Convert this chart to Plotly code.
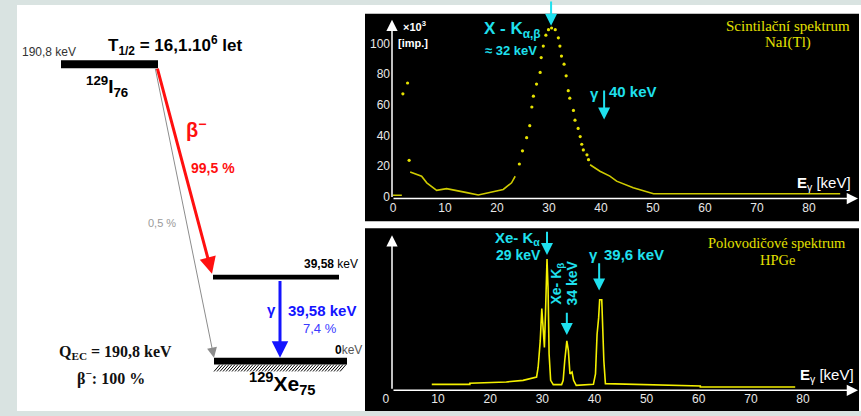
import plotly.graph_objects as go

W, H = 861, 416
SANS = "Liberation Sans, Arial, sans-serif"
SERIF = "Liberation Serif, Times New Roman, serif"

# ---------------- decay scheme of 129I ----------------
level_energy_keV = [190.8, 39.58, 0.0]          # parent, excited, ground
beta_branch_pct = [99.5, 0.5]                   # to 39.58 keV level, to ground
gamma_energy_keV = 39.58
gamma_intensity_pct = 7.4
half_life_mantissa = "16,1"
half_life_exp = 6
q_value_keV = 190.8
beta_total_pct = 100
parent_nuclide = ("129", "I", "76")
daughter_nuclide = ("129", "Xe", "75")

# ---------------- NaI(Tl) scintillation spectrum ----------------
nai_line_keV = [0.0, 1.7, None,
                3.3, 5.5, 6.5, 8.4, 10.3, 12.2, 14.2, 16.4, 19.3, 21.2, 22.8, 23.5, None,
                37.9, 39.8, 41.7, 43.0, 46.2, 49.4, 50.1, 86.0]
nai_line_counts = [0.9, 0.9, None,
                   16.1, 13.3, 9.0, 4.1, 5.2, 4.1, 2.6, 1.1, 3.0, 4.7, 9.0, 13.3, None,
                   20.8, 16.6, 13.4, 10.1, 5.8, 2.6, 1.9, 1.9]
nai_dot_keV = [1.9, 2.8, 3.1,
               24.3, 24.9, 25.7, 26.3, 26.7, 27.0, 27.6, 28.3, 28.5, 28.9, 29.4, 29.9,
               30.5, 31.2, 31.8, 32.1, 32.4, 32.9, 33.3, 33.7, 34.0, 34.7, 35.0, 35.6,
               36.0, 36.3, 36.6, 37.3, 37.6]
nai_dot_counts = [67.1, 74.2, 23.7,
                  21.3, 29.9, 38.5, 46.3, 58.5, 65.6, 73.5, 81.1, 90.8, 98.3, 105.4, 109.0,
                  110.1, 109.0, 103.7, 98.3, 91.8, 86.5, 78.9, 69.2, 64.3, 56.3, 49.9, 44.5,
                  39.2, 34.2, 30.5, 27.3, 24.1]
nai_xticks = [0, 10, 20, 30, 40, 50, 60, 70, 80]
nai_yticks = [0, 20, 40, 60, 80, 100]
nai_peak_marks_keV = [30.4, 40.6]       # X-K(alpha,beta) and gamma arrows

# ---------------- HPGe semiconductor spectrum ----------------
hpge_keV = [8.8, 16.1, 16.1, 23.1, 26.3, 28.9, 29.2, 29.6, 29.9, 30.1, 30.4, 30.6,
            30.9, 31.1, 31.3, 31.6, 32.1, 33.7, 34.0, 34.3, 34.7, 35.0, 35.3, 35.7,
            36.0, 36.5, 39.8, 40.2, 40.5, 40.8, 41.0, 41.4, 41.6, 41.8, 42.1, 60.3,
            60.3, 78.5]
hpge_counts = [4.0, 4.0, 4.7, 5.6, 6.7, 8.9, 15.6, 33.4, 55.3, 46.8, 29.0, 51.3,
               88.8, 69.1, 24.5, 6.7, 3.8, 3.8, 6.7, 20.0, 33.4, 26.8, 11.1, 12.3,
               6.7, 3.3, 4.0, 11.1, 37.9, 49.0, 61.3, 61.3, 40.1, 20.0, 4.5, 2.9,
               2.2, 2.2]
hpge_xticks = [0, 10, 20, 30, 40, 50, 60, 70, 80]
hpge_peak_marks_keV = [30.9, 34.7, 40.9]  # Kalpha, Kbeta, gamma arrows


def cz(v):
    """Czech decimal comma."""
    return format(v, "g").replace(".", ",")


# ---------------- figure geometry (canvas pixels) ----------------
BG = "#d9e3e1"
CYAN = "#1fe0ee"
YELLOW_TXT = "#e4e000"
RED = "#ff1010"
BLUE = "#1414ff"

bars = {"parent": (61, 158, 61, 69),
        "excited": (213, 339, 278, 283),
        "ground": (214, 347, 362, 369)}

NAI_BOX = (365, 859, 14, 224)
HPGE_BOX = (365, 859, 231, 416)
NAI_X0, NAI_PX = 393.0, 5.2       # px of 0 keV, px per keV
NAI_Y0, NAI_PY = 199.0, 1.55      # px of 0 counts, px per count unit
HPGE_X0, HPGE_PX = 385.9, 5.214
HPGE_Y0, HPGE_PY = 395.0, 1.495


def fx(x):
    return x / W


def fy(y):
    return 1 - y / H


fig = go.Figure()

fig.add_trace(go.Scatter(x=nai_line_keV, y=nai_line_counts, xaxis="x2", yaxis="y2",
                         mode="lines", line=dict(color="#cfcb00", width=1.6),
                         connectgaps=False, hoverinfo="skip", showlegend=False))
fig.add_trace(go.Scatter(x=nai_dot_keV, y=nai_dot_counts, xaxis="x2", yaxis="y2",
                         mode="markers", marker=dict(color="#e6e200", size=3.2),
                         hoverinfo="skip", showlegend=False))
fig.add_trace(go.Scatter(x=hpge_keV, y=hpge_counts, xaxis="x3", yaxis="y3",
                         mode="lines", line=dict(color="#f4f000", width=1.6),
                         hoverinfo="skip", showlegend=False))

shapes = []
# page background panels
shapes.append(dict(type="rect", xref="paper", yref="paper", x0=fx(17), x1=1, y0=0, y1=fy(5),
                   fillcolor="white", line_width=0, layer="below"))
for (x0, x1, y0, y1) in (NAI_BOX, HPGE_BOX):
    shapes.append(dict(type="rect", xref="paper", yref="paper", x0=fx(x0), x1=fx(x1),
                       y0=fy(y1), y1=fy(y0), fillcolor="black", line_width=0, layer="below"))
# energy levels
for key in ("parent", "excited", "ground"):
    x0, x1, y0, y1 = bars[key]
    shapes.append(dict(type="rect", xref="x", yref="y", x0=x0, x1=x1, y0=y0, y1=y1,
                       fillcolor="black", line_width=0))
# hatching under the ground state
gx0, gx1, _, gy1 = bars["ground"]
hatch = " ".join(f"M{x},{gy1 + 7} L{x + 6},{gy1}" for x in range(gx0, gx1 - 4, 3))
shapes.append(dict(type="path", xref="x", yref="y", path=hatch,
                   line=dict(color="black", width=1)))

ann = []


def txt(x, y, text, size, color="black", family=SANS, xanchor="left", angle=0):
    ann.append(dict(x=x, y=y, xref="x", yref="y", text=text, showarrow=False,
                    font=dict(size=size, color=color, family=family),
                    xanchor=xanchor, yanchor="middle", textangle=angle))


def arrow(xh, yh, xt, yt, color, width, size, xref="x"):
    ann.append(dict(x=xh, y=yh, ax=xt, ay=yt, xref=xref, yref="y", axref=xref, ayref="y",
                    text="", showarrow=True, arrowhead=2, arrowsize=size,
                    arrowwidth=width, arrowcolor=color, standoff=0, startstandoff=0))


# ---- decay scheme texts and transitions ----
txt(20, 53, f"{cz(level_energy_keV[0])} keV", 12, "#333333")
txt(106, 46, f"<b>T<sub>1/2</sub> = {half_life_mantissa}.10<sup>{half_life_exp}</sup> let</b>", 17)
txt(84, 88, f"<b><sup>{parent_nuclide[0]}</sup>{parent_nuclide[1]}<sub>{parent_nuclide[2]}</sub></b>", 19)

arrow(214, 362, 155, 68, "#8c8c8c", 1, 2.0)
arrow(212, 277, 157, 68, RED, 3, 1.1)
txt(184, 130, "<b>β<sup>−</sup></b>", 20, RED)
txt(189, 170, f"<b>{cz(beta_branch_pct[0])} %</b>", 14, RED)
txt(146, 226, f"{cz(beta_branch_pct[1])} %", 11, "#9a9a9a")

txt(302, 267, f"<b>{cz(level_energy_keV[1])}</b> keV", 12)
arrow(280, 362, 280, 283, BLUE, 3, 1.1)
txt(265, 313, "<b>γ</b>", 15, BLUE)
txt(286, 314, f"<b>{cz(gamma_energy_keV)} keV</b>", 15, BLUE)
txt(301, 332, f"{cz(gamma_intensity_pct)} %", 13, "#3a3aff")
txt(333, 354, f"<b>{cz(level_energy_keV[2])}</b><span style='color:#555'>keV</span>", 12)
txt(247, 388, f"<b><sup>{daughter_nuclide[0]}</sup>{daughter_nuclide[1]}<sub>{daughter_nuclide[2]}</sub></b>", 21)

txt(57, 357, f"<b>Q<sub>EC</sub> = {cz(q_value_keV)} keV</b>", 16, "#111111", SERIF)
txt(75, 382, f"<b>β<sup>−</sup>: {beta_total_pct} %</b>", 16, "#111111", SERIF)

# ---- NaI panel ----
arrow(392, 20, 392, 201, "white", 1.5, 1.5)
arrow(858, 201, 392, 201, "white", 1.5, 1.5)
txt(401, 26, "<b>×10<sup>3</sup></b>", 11, "white")
txt(396, 44, "<b>[imp.]</b>", 11, "white")
txt(482, 30, "<b>X - K<sub>α,β</sub></b>", 17, CYAN)
txt(483, 51, "<b>≈ 32 keV</b>", 13, CYAN)
arrow(nai_peak_marks_keV[0], 26, nai_peak_marks_keV[0], 0, CYAN, 2, 1.2, xref="x2")
txt(588, 95, "<b>γ</b>", 15, CYAN)
arrow(nai_peak_marks_keV[1], 121, nai_peak_marks_keV[1], 90, CYAN, 2, 1.2, xref="x2")
txt(607, 93, "<b>40 keV</b>", 15, CYAN)
txt(788, 26, "Scintilační spektrum", 15, YELLOW_TXT, SERIF, "center")
txt(788, 43, "NaI(Tl)", 15, YELLOW_TXT, SERIF, "center")
txt(795, 186, "<b>E</b><sub>γ</sub> [keV]", 15, "white")

# ---- HPGe panel ----
arrow(392, 238, 392, 395, "white", 1.5, 1.5)
arrow(858, 395, 392, 395, "white", 1.5, 1.5)
txt(493, 241, "<b>Xe- K<sub>α</sub></b>", 15, CYAN)
txt(494, 258, "<b>29 keV</b>", 14, CYAN)
arrow(hpge_peak_marks_keV[0], 258, hpge_peak_marks_keV[0], 233, CYAN, 2, 1.2, xref="x3")
txt(557, 287, "<b>Xe- K<sub>β</sub></b>", 14, CYAN, xanchor="center", angle=-90)
txt(572, 287, "<b>34 keV</b>", 14, CYAN, xanchor="center", angle=-90)
arrow(hpge_peak_marks_keV[1], 339, hpge_peak_marks_keV[1], 315, CYAN, 2, 1.2, xref="x3")
txt(587, 258, "<b>γ</b>", 15, CYAN)
arrow(hpge_peak_marks_keV[2], 294, hpge_peak_marks_keV[2], 265, CYAN, 2, 1.2, xref="x3")
txt(602, 258, "<b>39,6 keV</b>", 15, CYAN)
txt(777, 246, "Polovodičové spektrum", 14.5, YELLOW_TXT, SERIF, "center")
txt(777, 263, "HPGe", 14.5, YELLOW_TXT, SERIF, "center")
txt(798, 380, "<b>E</b><sub>γ</sub> [keV]", 15, "white")

tickfont = dict(family=SANS, size=12, color="#e8e8e8")
hidden = dict(visible=False, fixedrange=True)

fig.update_layout(
    width=W, height=H, margin=dict(l=0, r=0, t=0, b=0),
    paper_bgcolor=BG, plot_bgcolor="rgba(0,0,0,0)", showlegend=False,
    xaxis=dict(domain=[0, 1], range=[0, W], **hidden),
    yaxis=dict(domain=[0, 1], range=[H, 0], **hidden),
    xaxis2=dict(domain=[fx(380), fx(858)], anchor="y2",
                range=[(380 - NAI_X0) / NAI_PX, (858 - NAI_X0) / NAI_PX],
                tickvals=nai_xticks, ticks="", showgrid=False, zeroline=False,
                showline=False, tickfont=tickfont, fixedrange=True),
    yaxis2=dict(domain=[fy(201), fy(20)], anchor="free", position=fx(390),
                range=[(NAI_Y0 - 201) / NAI_PY, (NAI_Y0 - 20) / NAI_PY],
                tickvals=nai_yticks, ticks="", showgrid=False, zeroline=False,
                showline=False, tickfont=tickfont, fixedrange=True),
    xaxis3=dict(domain=[fx(380), fx(858)], anchor="y3",
                range=[(380 - HPGE_X0) / HPGE_PX, (858 - HPGE_X0) / HPGE_PX],
                tickvals=hpge_xticks, ticks="", showgrid=False, zeroline=False,
                showline=False, tickfont=tickfont, fixedrange=True),
    yaxis3=dict(domain=[fy(395), fy(238)], anchor="free", position=fx(392),
                range=[(HPGE_Y0 - 395) / HPGE_PY, (HPGE_Y0 - 238) / HPGE_PY],
                visible=False, fixedrange=True),
    shapes=shapes, annotations=ann,
)

fig.write_html("out.html")
